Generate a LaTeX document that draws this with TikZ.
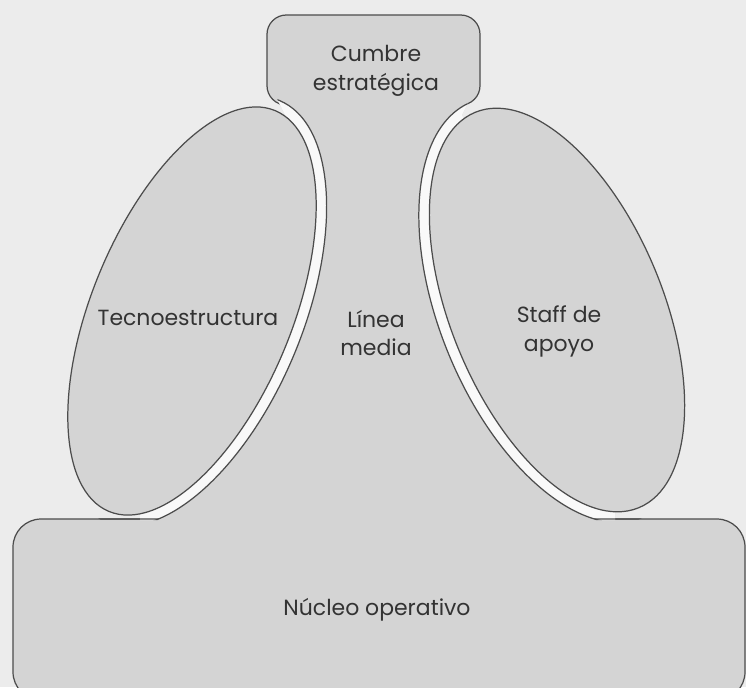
\documentclass[tikz,border=0pt]{standalone}
\usepackage{fontspec}
\setmainfont{Poppins}
\usepackage{tikz}

\definecolor{paper}{gray}{0.925}
\definecolor{partgrey}{gray}{0.83}
\definecolor{gapwhite}{gray}{0.975}
\definecolor{edge}{gray}{0.3}

\tikzset{
  part/.style={fill=partgrey, draw=edge, line width=0.7pt},
  partname/.style={align=center, text=black!80, font=\fontsize{12.5}{16.5}\selectfont},
  leftell/.style={rotate around={-22.5:(192,311)}},
  rightell/.style={rotate around={22.5:(557,310)}}
}

\begin{document}
\begin{tikzpicture}[x=0.02cm, y=-0.02cm]
\fill[paper] (0,0) rectangle (746,687);
\useasboundingbox (0,0) rectangle (746,687);

\draw[part, rounded corners=16pt] (13,519) rectangle (745,700);
\draw[part, rounded corners=11pt] (267,15) rectangle (480,105);
\fill[partgrey] (270,60) -- (270,84) -- (285,115) -- (192,311) -- (140,512) -- (140,520) -- (615,520) -- (615,512) -- (557,310) -- (462,115) -- (477,84) -- (477,60) -- cycle;

% gap round the two ellipses
\begin{scope}
\clip (270,60) -- (270,84) -- (285,115) -- (192,311) -- (140,512) -- (140,520) -- (615,520) -- (615,512) -- (557,310) -- (462,115) -- (477,84) -- (477,60) -- cycle;
\draw[fill=gapwhite, draw=edge, line width=0.7pt, leftell] (192,311) ellipse [x radius=2.22cm, y radius=4.56cm];
\draw[fill=gapwhite, draw=edge, line width=0.7pt, rightell] (557,310) ellipse [x radius=2.34cm, y radius=4.50cm];
\end{scope}
\begin{scope}
\clip[leftell] (192,311) ellipse [x radius=2.22cm, y radius=4.56cm];
\draw[draw=edge, line width=0.7pt, rounded corners=16pt] (13,519) rectangle (745,700);
\end{scope}
\begin{scope}
\clip[rightell] (557,310) ellipse [x radius=2.34cm, y radius=4.50cm];
\draw[draw=edge, line width=0.7pt, rounded corners=16pt] (13,519) rectangle (745,700);
\end{scope}

\draw[part, leftell] (192,311) ellipse [x radius=2cm, y radius=4.34cm];
\draw[part, rightell] (557,310) ellipse [x radius=2.12cm, y radius=4.28cm];

\node[partname] (cumbre) at (376,71) {Cumbre\\estratégica};
\node[partname] (tecno) at (188,318) {Tecnoestructura};
\node[partname] (linea) at (376,333) {Línea\\media};
\node[partname] (staff) at (559,331) {Staff de\\apoyo};
\node[partname] (nucleo) at (377,610) {Núcleo operativo};
\end{tikzpicture}
\end{document}
